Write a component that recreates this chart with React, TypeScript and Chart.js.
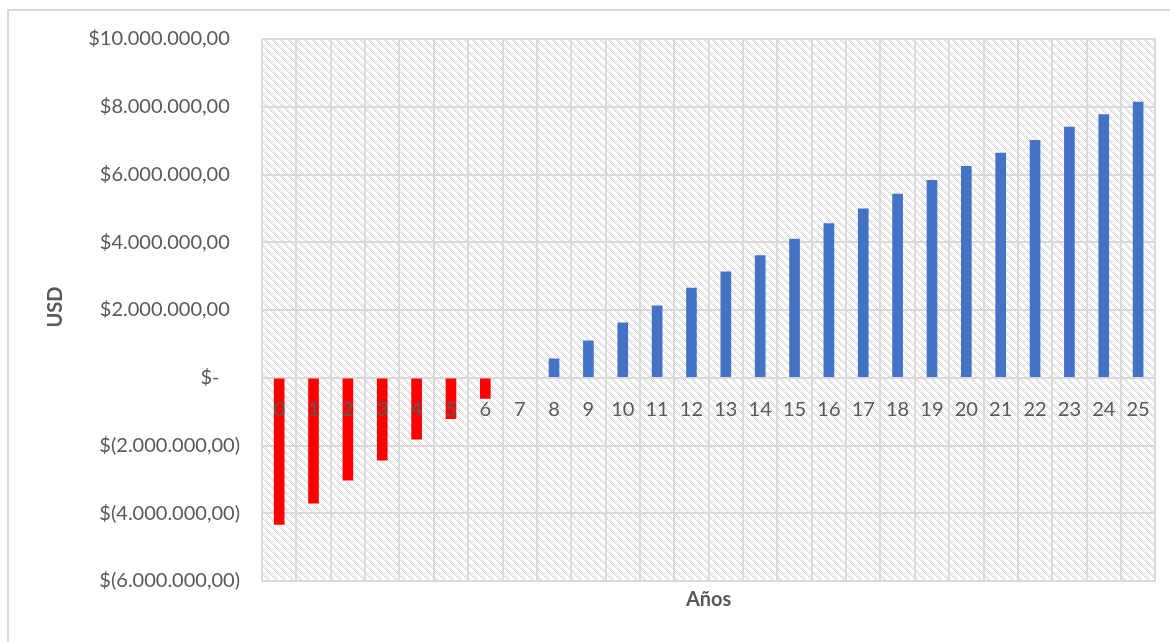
import React, { useEffect, useRef } from "react";
import { Chart, registerables } from "chart.js";

Chart.register(...registerables);

// Project cash flow per year (USD)
const years: string[] = [
  "0", "1", "2", "3", "4", "5", "6", "7", "8", "9", "10", "11", "12",
  "13", "14", "15", "16", "17", "18", "19", "20", "21", "22", "23", "24", "25",
];

const flujo: (number | null)[] = [
  -4330000, -3700000, -3020000, -2430000, -1810000, -1210000, -610000, null,
  560000, 1090000, 1620000, 2120000, 2650000, 3130000, 3610000, 4090000,
  4550000, 4990000, 5420000, 5830000, 6240000, 6630000, 7010000, 7400000,
  7770000, 8140000,
];

const yMin = -6000000;
const yMax = 10000000;
const yStep = 2000000;

const yTitle = "USD";
const xTitle = "Años";

const FONT = "Lato, 'Open Sans', sans-serif";
const TEXT = "#595959";
const GRID = "#d9d9d9";
const NEG = "#ff0000";
const POS = "#4472c4";

function formatUsd(v: number): string {
  if (v === 0) return "$-    ";
  const abs = Math.abs(v);
  const intPart = Math.round(abs)
    .toString()
    .replace(/\B(?=(\d{3})+(?!\d))/g, ".");
  const s = `${intPart},00`;
  return v < 0 ? `$(${s})` : `$${s}  `;
}

// Light dotted diagonal hatch for the plot area
function makeHatch(): CanvasPattern | string {
  const tile = document.createElement("canvas");
  tile.width = 8;
  tile.height = 8;
  const c = tile.getContext("2d");
  if (!c) return "#f6f6f6";
  c.fillStyle = "#ffffff";
  c.fillRect(0, 0, 8, 8);
  c.fillStyle = "#d4d4d4";
  for (let y = 0; y < 8; y++) {
    for (let x = 0; x < 8; x++) {
      const d = (((x - y) % 8) + 8) % 8;
      if ((d === 0 || d === 1 || d === 2) && (x + y) % 2 === 0) {
        c.fillRect(x, y, 1, 1);
      }
    }
  }
  const p = c.createPattern(tile, "repeat");
  return p || "#f6f6f6";
}

export default function App() {
  const canvasRef = useRef<HTMLCanvasElement | null>(null);

  useEffect(() => {
    const canvas = canvasRef.current;
    if (!canvas) return;
    const hatch = makeHatch();

    const plotBackground = {
      id: "plotBackground",
      beforeDraw(chart: any) {
        const { ctx, chartArea } = chart;
        ctx.save();
        ctx.fillStyle = hatch;
        ctx.fillRect(
          chartArea.left,
          chartArea.top,
          chartArea.right - chartArea.left,
          chartArea.bottom - chartArea.top
        );
        ctx.restore();
      },
    };

    const axisTitles = {
      id: "axisTitles",
      afterDraw(chart: any) {
        const { ctx, chartArea } = chart;
        ctx.save();
        ctx.fillStyle = TEXT;
        ctx.font = `bold 20px ${FONT}`;
        ctx.textAlign = "center";
        ctx.textBaseline = "middle";
        ctx.fillText(xTitle, (chartArea.left + chartArea.right) / 2, 600);
        ctx.translate(56, (chartArea.top + chartArea.bottom) / 2 - 3);
        ctx.rotate(-Math.PI / 2);
        ctx.fillText(yTitle, 0, 0);
        ctx.restore();
      },
    };

    const chart = new Chart(canvas, {
      type: "bar",
      data: {
        labels: years,
        datasets: [
          {
            label: "Flujo",
            data: flujo,
            backgroundColor: (ctx: any) =>
              (ctx.raw as number) < 0 ? NEG : POS,
            borderWidth: 0,
            barThickness: 10,
            xAxisID: "x",
            yAxisID: "y",
          },
        ],
      },
      options: {
        responsive: false,
        animation: false,
        devicePixelRatio: 1,
        layout: { padding: { top: 39, right: 14, bottom: 0, left: 0 } },
        plugins: {
          legend: { display: false },
          tooltip: { enabled: false },
        },
        scales: {
          x: {
            type: "category",
            position: "bottom",
            offset: true,
            grid: {
              offset: true,
              color: GRID,
              lineWidth: 2,
              drawTicks: false,
            },
            border: { display: false },
            ticks: { display: false },
            afterFit(scale: any) {
              scale.height = 61;
            },
          },
          // Category labels sit next to the zero line, above the bars
          x2: {
            type: "category",
            position: { y: 0 } as any,
            offset: true,
            grid: { display: false, drawTicks: false },
            border: { display: false },
            ticks: {
              z: 1,
              color: TEXT,
              font: { family: FONT, size: 20 },
              padding: 20,
              maxRotation: 0,
              autoSkip: false,
            },
          },
          y: {
            type: "linear",
            min: yMin,
            max: yMax,
            grid: { color: GRID, lineWidth: 2, drawTicks: false },
            border: { display: false },
            ticks: {
              stepSize: yStep,
              color: TEXT,
              font: { family: FONT, size: 20 },
              padding: 22,
              callback: (v: any) => formatUsd(Number(v)),
            },
            afterFit(scale: any) {
              scale.width = 262;
            },
          },
        },
      },
      plugins: [plotBackground, axisTitles],
    } as any);

    return () => chart.destroy();
  }, []);

  return (
    <div
      style={{
        position: "fixed",
        left: 0,
        top: 0,
        width: 1170,
        height: 642,
        overflow: "hidden",
        background: "#ffffff",
      }}
    >
      <div
        style={{
          position: "absolute",
          left: 7,
          top: 9,
          width: 1200,
          height: 700,
          border: `2px solid ${GRID}`,
        }}
      />
      <canvas
        ref={canvasRef}
        width={1170}
        height={642}
        style={{ position: "absolute", left: 0, top: 0, width: 1170, height: 642 }}
      />
    </div>
  );
}
